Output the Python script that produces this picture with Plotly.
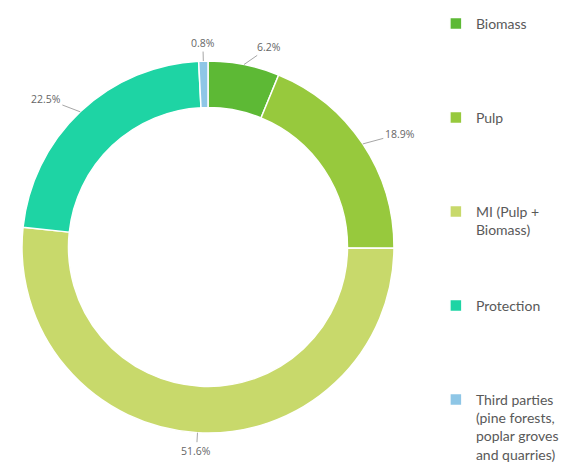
import math
import plotly.graph_objects as go

categories = ["Biomass", "Pulp", "MI (Pulp +<br>Biomass)", "Protection",
              "Third parties<br>(pine forests,<br>poplar groves<br>and quarries)"]
values = [6.2, 18.9, 51.6, 22.5, 0.8]
value_labels = ["6.2%", "18.9%", "51.6%", "22.5%", "0.8%"]
colors = ["#5db935", "#97c93d", "#c8d96b", "#1ed4a4", "#8ec6e6"]

W, H = 569, 472
cx, cy, R = 200, 239, 186

# pad legend entries with blank lines so items are spread vertically
line_counts = [c.count("<br>") + 1 for c in categories]
legend_names = []
for c, n in zip(categories, line_counts):
    pad = max(0, 5 - n)
    legend_names.append(c + "<br>\u00a0" * pad)

fig = go.Figure(go.Pie(
    labels=legend_names,
    values=values,
    marker=dict(colors=colors, line=dict(color="white", width=1.5)),
    hole=0.75,
    sort=False,
    direction="clockwise",
    rotation=0,
    textinfo="none",
    hovertemplate="%{percent}<extra></extra>",
    domain=dict(x=[(cx - R) / W, (cx + R) / W],
                y=[(H - cy - R) / H, (H - cy + R) / H]),
))

total = sum(values)
cum = 0
annotations = []
L, HX = 18, 22
for v, lab in zip(values, value_labels):
    mid = (cum + v / 2) / total
    cum += v
    th = 2 * math.pi * mid
    s, c = math.sin(th), math.cos(th)
    px = cx + R * s
    py = cy - R * c
    side = 1 if s > 0.1 else (-1 if s < -0.1 else 0)
    ax = s * L + side * HX
    ay = -c * L
    annotations.append(dict(
        x=px / W, y=1 - py / H, xref="paper", yref="paper",
        text=lab, showarrow=True, arrowhead=0, arrowwidth=1,
        arrowcolor="#a6a6a6", ax=ax, ay=ay,
        font=dict(size=10.5, color="#666666"),
    ))

fig.update_layout(
    width=W, height=H,
    margin=dict(l=0, r=0, t=0, b=0, autoexpand=False),
    paper_bgcolor="white",
    plot_bgcolor="white",
    font=dict(family="Open Sans", color="#595959"),
    showlegend=True,
    legend=dict(x=0.752, y=1.0, xanchor="left", yanchor="top",
                valign="top", font=dict(family="Lato", size=14, color="#595959"),
                traceorder="normal", borderwidth=0),
    annotations=annotations,
)

fig.write_html("out.html")
